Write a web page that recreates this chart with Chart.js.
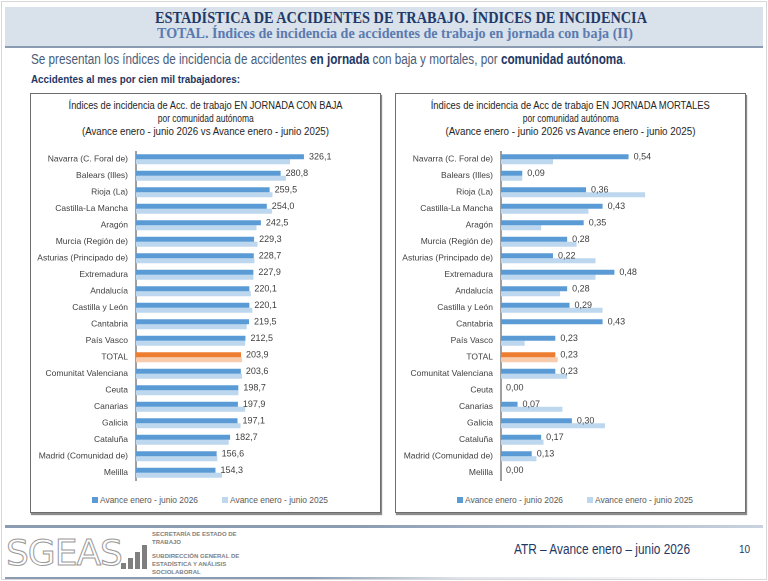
<!DOCTYPE html>
<html>
<head>
<meta charset="utf-8">
<script src="https://cdn.jsdelivr.net/npm/chart.js@4.4.1/dist/chart.umd.min.js"></script>
<style>
  html, body { margin: 0; padding: 0; }
  body { width: 768px; height: 581px; position: relative; background: #fff; overflow: hidden;
         font-family: "Liberation Sans", Arial, sans-serif; }
  .frame { position: absolute; left: 1px; top: 1px; width: 764px; height: 577px; border: 1px solid #d8d8d8; }
  .band { position: absolute; left: 5px; top: 7px; width: 758px; height: 39px; background: #d9e1ea; border-bottom: 2px solid #8a9bb2; }
  .fit { display: inline-block; white-space: nowrap; transform-origin: left center; }
  .t1 { position: absolute; left: 155px; top: 7px; font-family: "Liberation Serif", serif;
        font-weight: bold; font-size: 17.5px; color: #1f3a68; }
  .t2 { position: absolute; left: 157px; top: 26px; font-family: "Liberation Serif", serif;
        font-weight: bold; font-size: 14px; color: #5a7bb0; }
  .ctitle .fit { transform-origin: center; }
  .intro { position: absolute; left: 31px; top: 51px; font-size: 14px; color: #4a5d78; }
  .intro b { color: #1f3864; }
  .sub { position: absolute; left: 31px; top: 73px; font-size: 11px; font-weight: bold; color: #1f3864; }
  .box { position: absolute; top: 93px; width: 349px; height: 418px; border: 1px solid #6e6e6e; box-shadow: 1px 2px 1px #8c8c8c; background: #fff; }
  .ctitle { position: absolute; top: 5px; left: 0; width: 100%; text-align: center; font-size: 10px; line-height: 13px; color: #262626; }
  .legend { position: absolute; top: 401px; left: 0; width: 100%; font-size: 9px; color: #595959; white-space: nowrap; }
  .legend i { display: inline-block; width: 6px; height: 6px; margin-right: 2px; vertical-align: 0; }
  canvas { position: absolute; }
  .foot-line { position: absolute; left: 5px; top: 525px; width: 758px; height: 3px;
               background: linear-gradient(to right, #8a9bb2 0%, #8a9bb2 45%, #c9d2de 100%); }
  .foot-line2 { position: absolute; left: 5px; top: 577px; width: 758px; height: 2px;
                background: linear-gradient(to right, #8a9bb2 0%, #8a9bb2 40%, #dfe4ea 60%, #ffffff 100%); }
  .logo { position: absolute; left: 6px; top: 533px; font-family: "DejaVu Sans", sans-serif; font-size: 36px; letter-spacing: -1px;
          color: #fff; -webkit-text-stroke: 1px #9a9a9a; line-height: 40px; }
  .bars { position: absolute; left: 121px; top: 547px; }
  .bars i { position: absolute; bottom: -22px; width: 5px; background: #7f7f7f; }
  .org { position: absolute; left: 152px; font-size: 6px; color: #7f7f7f; font-weight: bold; line-height: 8px; }
  .atr { position: absolute; left: 514px; top: 541px; font-size: 14px; color: #1f3864; }
  .pg { position: absolute; left: 739px; top: 544px; font-size: 10px; color: #1f3864; }
</style>
</head>
<body>
<div class="frame"></div>
<div class="band"></div>
<div class="t1"><span class="fit" data-w="492">ESTADÍSTICA DE ACCIDENTES DE TRABAJO. ÍNDICES DE INCIDENCIA</span></div>
<div class="t2"><span class="fit" data-w="476">TOTAL. Índices de incidencia de accidentes de trabajo en jornada con baja (II)</span></div>
<div class="intro"><span class="fit" data-w="595">Se presentan los índices de incidencia de accidentes <b>en jornada</b> con baja y mortales, por <b>comunidad autónoma</b>.</span></div>
<div class="sub"><span class="fit" data-w="209">Accidentes al mes por cien mil trabajadores:</span></div>

<div class="box" style="left:30px">
  <div class="ctitle"><span class="fit" data-w="274">Índices de incidencia de Acc. de trabajo EN JORNADA CON BAJA</span><br><span class="fit" data-w="96">por comunidad autónoma</span><br><span class="fit" data-w="247">(Avance enero - junio 2026 vs Avance enero - junio 2025)</span></div>
  <div class="legend"><span style="position:absolute;left:61px"><i style="background:#5b9bd5"></i><span class="fit" data-w="98">Avance enero - junio 2026</span></span><span style="position:absolute;left:191px"><i style="background:#bdd7ee"></i><span class="fit" data-w="98">Avance enero - junio 2025</span></span></div>
</div>
<div class="box" style="left:395px">
  <div class="ctitle"><span class="fit" data-w="279">Índices de incidencia de Acc de trabajo EN JORNADA MORTALES</span><br><span class="fit" data-w="96">por comunidad autónoma</span><br><span class="fit" data-w="250">(Avance enero - junio 2026 vs Avance enero - junio 2025)</span></div>
  <div class="legend"><span style="position:absolute;left:61px"><i style="background:#5b9bd5"></i><span class="fit" data-w="98">Avance enero - junio 2026</span></span><span style="position:absolute;left:191px"><i style="background:#bdd7ee"></i><span class="fit" data-w="98">Avance enero - junio 2025</span></span></div>
</div>
<canvas id="chartBaja" style="left:31px; top:151px; width:349px; height:330px"></canvas>
<canvas id="chartMort" style="left:396px; top:151px; width:349px; height:330px"></canvas>

<div class="foot-line"></div>
<div class="logo">SGEAS</div>
<div class="bars"><i style="left:0;height:6px"></i><i style="left:7px;height:11px"></i><i style="left:14px;height:17px"></i><i style="left:21px;height:24px"></i></div>
<div class="org" style="top:530px">SECRETARÍA DE ESTADO DE<br>TRABAJO</div>
<div class="org" style="top:552px">SUBDIRECCIÓN GENERAL DE<br>ESTADÍSTICA Y ANÁLISIS<br>SOCIOLABORAL</div>
<div class="atr"><span class="fit" data-w="176">ATR – Avance enero – junio 2026</span></div>
<div class="pg">10</div>
<div class="foot-line2"></div>

<script>
const comunidades = ['Navarra (C. Foral de)', 'Balears (Illes)', 'Rioja (La)', 'Castilla-La Mancha', 'Aragón',
  'Murcia (Región de)', 'Asturias (Principado de)', 'Extremadura', 'Andalucía', 'Castilla y León', 'Cantabria',
  'País Vasco', 'TOTAL', 'Comunitat Valenciana', 'Ceuta', 'Canarias', 'Galicia', 'Cataluña',
  'Madrid (Comunidad de)', 'Melilla'];

// Índices con baja
const baja2026 = [326.1, 280.8, 259.5, 254.0, 242.5, 229.3, 228.7, 227.9, 220.1, 220.1, 219.5, 212.5, 203.9, 203.6, 198.7, 197.9, 197.1, 182.7, 156.6, 154.3];
const baja2025 = [299, 291, 265, 264, 234, 236, 230, 228, 223, 226, 215, 212, 206, 206, 199, 212, 203, 180, 158, 167];

// Índices mortales
const mort2026 = [0.54, 0.09, 0.36, 0.43, 0.35, 0.28, 0.22, 0.48, 0.28, 0.29, 0.43, 0.23, 0.23, 0.23, 0.00, 0.07, 0.30, 0.17, 0.13, 0.00];
const mort2025 = [0.22, 0.09, 0.61, 0.37, 0.17, 0.32, 0.40, 0.40, 0.25, 0.43, 0.00, 0.10, 0.24, 0.28, 0.00, 0.26, 0.44, 0.18, 0.15, 0.00];

const fontSans = '"Liberation Sans", Arial, sans-serif';
const totalIdx = comunidades.indexOf('TOTAL');

// ajustar el ancho de los textos html al de la diapositiva original
document.querySelectorAll('.fit').forEach(el => {
  const w = el.getBoundingClientRect().width;
  el.style.transform = 'scaleX(' + (parseFloat(el.dataset.w) / w) + ')';
});

// etiqueta con el valor 2026 al final de cada barra
const etiquetas = {
  id: 'etiquetas',
  afterDatasetsDraw(chart, args, opts) {
    const ctx = chart.ctx;
    const meta = chart.getDatasetMeta(0);
    ctx.save();
    ctx.font = '9px ' + fontSans;
    ctx.fillStyle = '#404040';
    ctx.textBaseline = 'middle';
    meta.data.forEach((bar, i) => {
      const v = chart.data.datasets[0].data[i];
      const txt = v.toFixed(opts.decimals).replace('.', ',');
      ctx.fillText(txt, bar.x + 5, bar.y);
    });
    ctx.restore();
  }
};

function makeChart(id, v2026, v2025, maxX, decimals, padRight) {
  const c = document.getElementById(id);
  c.width = 349; c.height = 330;
  return new Chart(c, {
    type: 'bar',
    data: {
      labels: comunidades,
      datasets: [{
        label: 'Avance enero - junio 2026',
        data: v2026,
        backgroundColor: k => k.dataIndex === totalIdx ? '#ed7d31' : '#5b9bd5',
        categoryPercentage: 0.6,
        barPercentage: 1.0
      }, {
        label: 'Avance enero - junio 2025',
        data: v2025,
        backgroundColor: k => k.dataIndex === totalIdx ? '#f8cbad' : '#bdd7ee',
        categoryPercentage: 0.6,
        barPercentage: 1.0
      }]
    },
    options: {
      indexAxis: 'y',
      responsive: false,
      animation: false,
      devicePixelRatio: 2,
      layout: { padding: { right: padRight, top: 0, bottom: 0, left: 0 } },
      plugins: {
        legend: { display: false },
        tooltip: { enabled: false },
        etiquetas: { decimals: decimals }
      },
      scales: {
        x: { display: false, min: 0, max: maxX },
        y: {
          afterFit(scale) {
            scale.width = 105;
            scale.paddingTop = 0;
            scale.paddingBottom = 0;
          },
          grid: { display: false, drawTicks: false },
          border: { display: true, color: '#404040', width: 1 },
          ticks: { padding: 8, color: '#404040', font: { family: fontSans, size: 8.5 }, autoSkip: false }
        }
      }
    },
    plugins: [etiquetas]
  });
}

makeChart('chartBaja', baja2026, baja2025, 400, 1, 38);
makeChart('chartMort', mort2026, mort2025, 0.8, 2, 55);
</script>
</body>
</html>
